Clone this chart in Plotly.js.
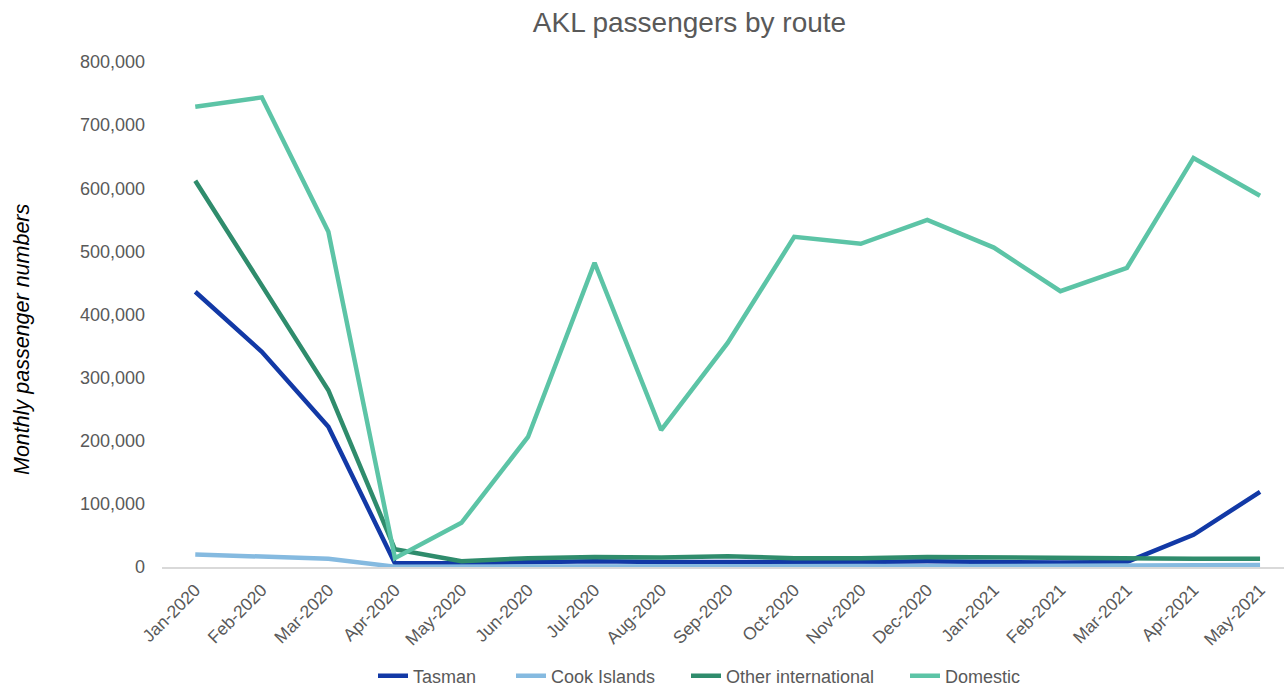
<!DOCTYPE html>
<html>
<head>
<meta charset="utf-8">
<script src="https://cdn.plot.ly/plotly-3.0.1.min.js"></script>
<style>html,body{margin:0;padding:0;background:#fff;}#chart{width:1284px;height:686px;}</style>
</head>
<body>
<div id="chart"></div>
<script>
const months = ["Jan-2020","Feb-2020","Mar-2020","Apr-2020","May-2020","Jun-2020","Jul-2020","Aug-2020","Sep-2020","Oct-2020","Nov-2020","Dec-2020","Jan-2021","Feb-2021","Mar-2021","Apr-2021","May-2021"];
const tasman = [436000,341000,222000,6000,6000,7000,9000,8000,8000,7000,8000,9000,8000,7000,8000,51000,119000];
const cookIslands = [20000,16500,13000,500,800,1000,1500,1500,1500,1500,1500,1000,1500,1800,2000,2500,3000];
const otherInternational = [612000,445000,280000,28000,9000,14000,16000,15000,17000,14000,14000,16000,15000,14000,13000,13000,13000];
const domestic = [729000,744000,531000,14000,70000,206000,482000,217000,355000,523000,512000,550000,506000,437000,474000,648000,588000];
const yTicks = [0,100000,200000,300000,400000,500000,600000,700000,800000];
const yTickText = ["0","100,000","200,000","300,000","400,000","500,000","600,000","700,000","800,000"];

const font = "'Liberation Sans', Arial, sans-serif";
function tr(name, y, color, leg){
  return {type:"scatter", mode:"lines", name:name, x:months, y:y, legend:leg,
    line:{color:color, width:4.5}, hoverinfo:"x+y+name"};
}
const data = [
  tr("Tasman", tasman, "#1239a6", "legend"),
  tr("Cook Islands", cookIslands, "#85bae0", "legend2"),
  tr("Other international", otherInternational, "#2f8c6c", "legend3"),
  tr("Domestic", domestic, "#5cc4a6", "legend4")
];
function leg(px){
  return {orientation:"h", xref:"container", yref:"container", x:px/1284, xanchor:"left",
    y:(686-676)/686, yanchor:"middle", bgcolor:"rgba(0,0,0,0)",
    font:{family:font, size:18, color:"#595959"}, itemwidth:30};
}
const layout = {
  width:1284, height:686,
  margin:{l:162, r:0, t:62, b:119},
  paper_bgcolor:"#fff", plot_bgcolor:"#fff",
  font:{family:font, color:"#595959", size:17},
  title:{text:"AKL passengers by route", font:{family:font, size:28, color:"#595959"}, x:0.537, xanchor:"center", y:0.968, yanchor:"middle"},
  xaxis:{type:"category", range:[-0.5,16.36], showgrid:false, zeroline:false, automargin:false,
    showline:true, linecolor:"#d9d9d9", linewidth:2, ticks:"", tickangle:-45, ticklabelstandoff:4,
    tickfont:{family:font, size:17.5, color:"#595959"}, fixedrange:true},
  yaxis:{range:[0,800000], tickvals:yTicks, ticktext:yTickText, showgrid:false, zeroline:false, automargin:false,
    showline:false, ticks:"", ticklen:0, ticklabelstandoff:16, tickfont:{family:font, size:18, color:"#595959"}},
  annotations:[{text:"<i>Monthly passenger numbers</i>", xref:"paper", yref:"paper",
    x:(22-162)/1122, y:(567-339)/505, xanchor:"center", yanchor:"middle", textangle:-90, showarrow:false,
    font:{family:font, size:21.5, color:"#000"}}],
  showlegend:true,
  legend:leg(373),
  legend2:leg(511),
  legend3:leg(686),
  legend4:leg(905)
};
Plotly.newPlot("chart", data, layout, {displayModeBar:false, staticPlot:true});
</script>
</body>
</html>
